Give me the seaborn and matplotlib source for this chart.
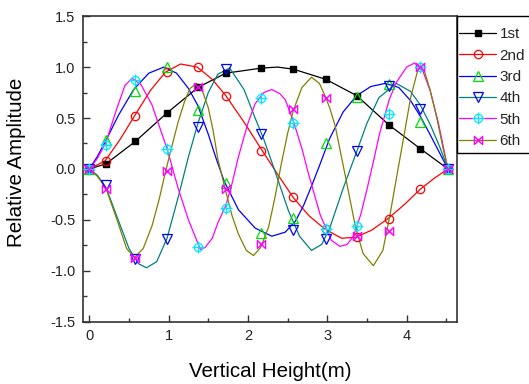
import numpy as np
import pandas as pd
import matplotlib
matplotlib.use("Agg")
import matplotlib.pyplot as plt
from matplotlib.lines import Line2D
from matplotlib.patches import Rectangle
from matplotlib.ticker import MultipleLocator, FormatStrFormatter
import seaborn as sns

# measured points (markers), same heights for every mode
heights = [0, 0.21, 0.58, 0.98, 1.37, 1.72, 2.17, 2.57, 2.98, 3.37, 3.78, 4.17, 4.52]
mode1 = [0, 0.05, 0.27, 0.55, 0.80, 0.94, 0.99, 0.98, 0.88, 0.72, 0.43, 0.20, 0]
mode2 = [0, 0.08, 0.52, 0.95, 1.00, 0.72, 0.18, -0.28, -0.59, -0.67, -0.49, -0.20, 0]
mode3 = [0, 0.28, 0.77, 1.00, 0.58, -0.14, -0.63, -0.48, 0.25, 0.71, 0.83, 0.46, 0]
mode4 = [0, -0.16, -0.88, -0.69, 0.41, 0.98, 0.34, -0.60, -0.69, 0.18, 0.81, 0.59, 0]
mode5 = [0, 0.24, 0.87, 0.20, -0.77, -0.38, 0.70, 0.45, -0.59, -0.56, 0.54, 1.00, 0]
mode6 = [0, -0.20, -0.87, -0.02, 0.80, -0.20, -0.74, 0.59, 0.70, -0.66, -0.61, 1.00, 0]

# curves (lines)
curve1_x = [0, 0.21, 0.58, 0.98, 1.37, 1.72, 2.17, 2.37, 2.57, 2.98, 3.37, 3.78, 4.17, 4.52]
curve1_y = [0, 0.05, 0.27, 0.55, 0.80, 0.94, 0.99, 1.00, 0.98, 0.88, 0.72, 0.43, 0.20, 0]

curve2_x = [0, 0.2, 0.38, 0.57, 0.77, 0.96, 1.15, 1.36, 1.55, 1.72, 1.95, 2.18, 2.38, 2.57,
            2.77, 2.97, 3.18, 3.36, 3.56, 3.76, 3.97, 4.17, 4.35, 4.52]
curve2_y = [0, 0.08, 0.28, 0.52, 0.77, 0.95, 1.03, 1.00, 0.88, 0.72, 0.46, 0.18, -0.06, -0.28,
            -0.46, -0.59, -0.68, -0.67, -0.60, -0.49, -0.35, -0.20, -0.09, 0]

curve3_x = [0, 0.1, 0.21, 0.37, 0.56, 0.75, 0.94, 1.1, 1.25, 1.37, 1.5, 1.6, 1.7, 1.88, 2.09,
            2.3, 2.47, 2.6, 2.7, 2.8, 2.9, 3.03, 3.2, 3.37, 3.55, 3.73, 3.9, 4.05, 4.17, 4.3,
            4.42, 4.52]
curve3_y = [0, 0.12, 0.28, 0.53, 0.78, 0.94, 1.00, 0.94, 0.79, 0.62, 0.34, 0.10, -0.12, -0.40,
            -0.58, -0.66, -0.62, -0.51, -0.36, -0.17, 0.03, 0.30, 0.56, 0.72, 0.81, 0.84, 0.80,
            0.67, 0.52, 0.33, 0.15, 0]

curve4_x = [0, 0.1, 0.21, 0.35, 0.5, 0.62, 0.72, 0.85, 0.98, 1.12, 1.25, 1.37, 1.5, 1.62, 1.77,
            1.95, 2.09, 2.2, 2.34, 2.51, 2.65, 2.8, 2.93, 3.03, 3.2, 3.37, 3.5, 3.65, 3.87, 4.05,
            4.17, 4.3, 4.42, 4.52]
curve4_y = [0, -0.06, -0.18, -0.47, -0.78, -0.93, -0.97, -0.91, -0.68, -0.28, 0.12, 0.45, 0.75,
            0.93, 0.99, 0.78, 0.50, 0.29, -0.02, -0.41, -0.66, -0.80, -0.74, -0.58, -0.19, 0.17,
            0.45, 0.70, 0.84, 0.76, 0.63, 0.43, 0.21, 0]

curve5_x = [0, 0.1, 0.21, 0.35, 0.45, 0.54, 0.65, 0.79, 0.9, 0.98, 1.12, 1.25, 1.4, 1.46, 1.55,
            1.62, 1.72, 1.8, 1.88, 2.0, 2.09, 2.2, 2.3, 2.4, 2.47, 2.58, 2.68, 2.76, 2.91, 3.05,
            3.16, 3.25, 3.33, 3.42, 3.5, 3.58, 3.66, 3.78, 3.87, 4.0, 4.1, 4.2, 4.3, 4.4, 4.52]
curve5_y = [0, 0.10, 0.26, 0.60, 0.82, 0.89, 0.83, 0.63, 0.38, 0.20, -0.19, -0.50, -0.79, -0.77,
            -0.68, -0.53, -0.36, -0.14, 0.12, 0.45, 0.64, 0.75, 0.78, 0.74, 0.68, 0.45, 0.20,
            -0.04, -0.45, -0.70, -0.76, -0.74, -0.66, -0.45, -0.20, 0.07, 0.35, 0.68, 0.85,
            1.00, 1.04, 0.97, 0.76, 0.45, 0]

curve6_x = [0, 0.1, 0.21, 0.35, 0.47, 0.57, 0.68, 0.79, 0.88, 0.96, 1.05, 1.12, 1.2, 1.27, 1.35,
            1.42, 1.5, 1.56, 1.62, 1.72, 1.8, 1.88, 1.98, 2.07, 2.16, 2.26, 2.34, 2.42, 2.5, 2.57,
            2.68, 2.8, 2.9, 2.97, 3.03, 3.1, 3.24, 3.35, 3.45, 3.58, 3.7, 3.79, 3.88, 3.96, 4.05,
            4.15, 4.22, 4.29, 4.38, 4.46, 4.52]
curve6_y = [0, -0.07, -0.19, -0.50, -0.78, -0.87, -0.78, -0.56, -0.30, -0.03, 0.25, 0.46, 0.66,
            0.79, 0.84, 0.78, 0.60, 0.38, 0.10, -0.22, -0.46, -0.64, -0.80, -0.85, -0.77, -0.57,
            -0.28, 0.05, 0.35, 0.57, 0.80, 0.90, 0.84, 0.72, 0.60, 0.42, -0.12, -0.55, -0.83,
            -0.95, -0.80, -0.45, -0.05, 0.30, 0.70, 1.00, 0.97, 0.79, 0.50, 0.20, 0]

labels = ["1st", "2nd", "3rd", "4th", "5th", "6th"]

sns.set_theme(style="ticks")
plt.rcParams["font.family"] = ["Liberation Sans", "DejaVu Sans"]

W, H = 529, 384
fig = plt.figure(figsize=(W / 100, H / 100), dpi=100)
ax = fig.add_axes([0.156, 0.162, 0.708, 0.796])

bowtie = [(-1, -1), (-1, 1), (1, -1), (1, 1), (-1, -1)]

series = [
    (curve1_x, curve1_y, mode1, "black", dict(marker="s", ms=5, mfc="black", mec="black")),
    (curve2_x, curve2_y, mode2, "#ff0000", dict(marker="o", ms=6, mfc="none", mec="#ff0000", mew=0.9)),
    (curve3_x, curve3_y, mode3, "#0000ff", dict(marker="^", ms=7.5, mfc="none", mec="#00e000", mew=0.9)),
    (curve4_x, curve4_y, mode4, "#008080", dict(marker="v", ms=7.5, mfc="none", mec="#0000ff", mew=0.9)),
    (curve5_x, curve5_y, mode5, "#ff00ff", dict(marker="o", ms=6, mfc="none", mec="#00e8ff", mew=0.9)),
    (curve6_x, curve6_y, mode6, "#808000", dict(marker=bowtie, ms=6, mfc="none", mec="#ff00ff", mew=0.9)),
]

handles = []
for (cx, cy, my, lc, mk) in series:
    df = pd.DataFrame({"x": cx, "y": cy})
    sns.lineplot(data=df, x="x", y="y", ax=ax, color=lc, linewidth=0.9,
                 sort=False, estimator=None, legend=False)
    ax.plot(heights, my, ls="none", zorder=3, **mk)
    handles.append(Line2D([], [], color=lc, lw=0.9, **mk))

# 5th marker has a cross through the circle, 6th an x through the bowtie
ax.plot(heights, mode5, ls="none", marker="+", ms=9, mec="#00e8ff", mew=0.9, zorder=3)
ax.plot(heights, mode6, ls="none", marker="x", ms=5, mec="#ff00ff", mew=0.8, zorder=3)
handles[4] = (handles[4], Line2D([], [], ls="none", marker="+", ms=9, mec="#00e8ff", mew=0.9))
handles[5] = (handles[5], Line2D([], [], ls="none", marker="x", ms=5, mec="#ff00ff", mew=0.8))

ax.set_xlim(-0.085, 4.635)
ax.set_ylim(-1.5, 1.5)
ax.xaxis.set_major_locator(MultipleLocator(1))
ax.xaxis.set_minor_locator(MultipleLocator(0.5))
ax.yaxis.set_major_locator(MultipleLocator(0.5))
ax.yaxis.set_minor_locator(MultipleLocator(0.25))
ax.yaxis.set_major_formatter(FormatStrFormatter("%.1f"))
ax.tick_params(which="both", direction="in", top=False, right=False, color="#333333",
               labelsize=10.5, labelcolor="#222222", width=1)
ax.tick_params(which="major", length=5, pad=5)
ax.tick_params(which="minor", length=3)
for sp in ax.spines.values():
    sp.set_linewidth(1.2)
    sp.set_color("#333333")

ax.set_xlabel("Vertical Height(m)", fontsize=14.8, color="black")
ax.set_ylabel("Relative Amplitude", fontsize=14.8, color="black")
ax.xaxis.set_label_coords(0.5, -0.132)
ax.yaxis.set_label_coords(-0.15, 0.52)

# legend box sits against the right spine and runs off the figure edge
fig.patches.append(Rectangle((457 / W, 1 - 152.7 / H), 0.2, (152.7 - 15.7) / H,
                             transform=fig.transFigure, fill=False, edgecolor="black",
                             linewidth=1.0, zorder=5))
leg = fig.legend(handles, labels, loc="upper left", bbox_to_anchor=(459 / W, 1 - 27.5 / H),
                 frameon=False, fontsize=11, handlelength=2.45, handletextpad=0.2,
                 borderpad=0, labelspacing=0.48, borderaxespad=0)

fig.savefig("out.png", dpi=100)
